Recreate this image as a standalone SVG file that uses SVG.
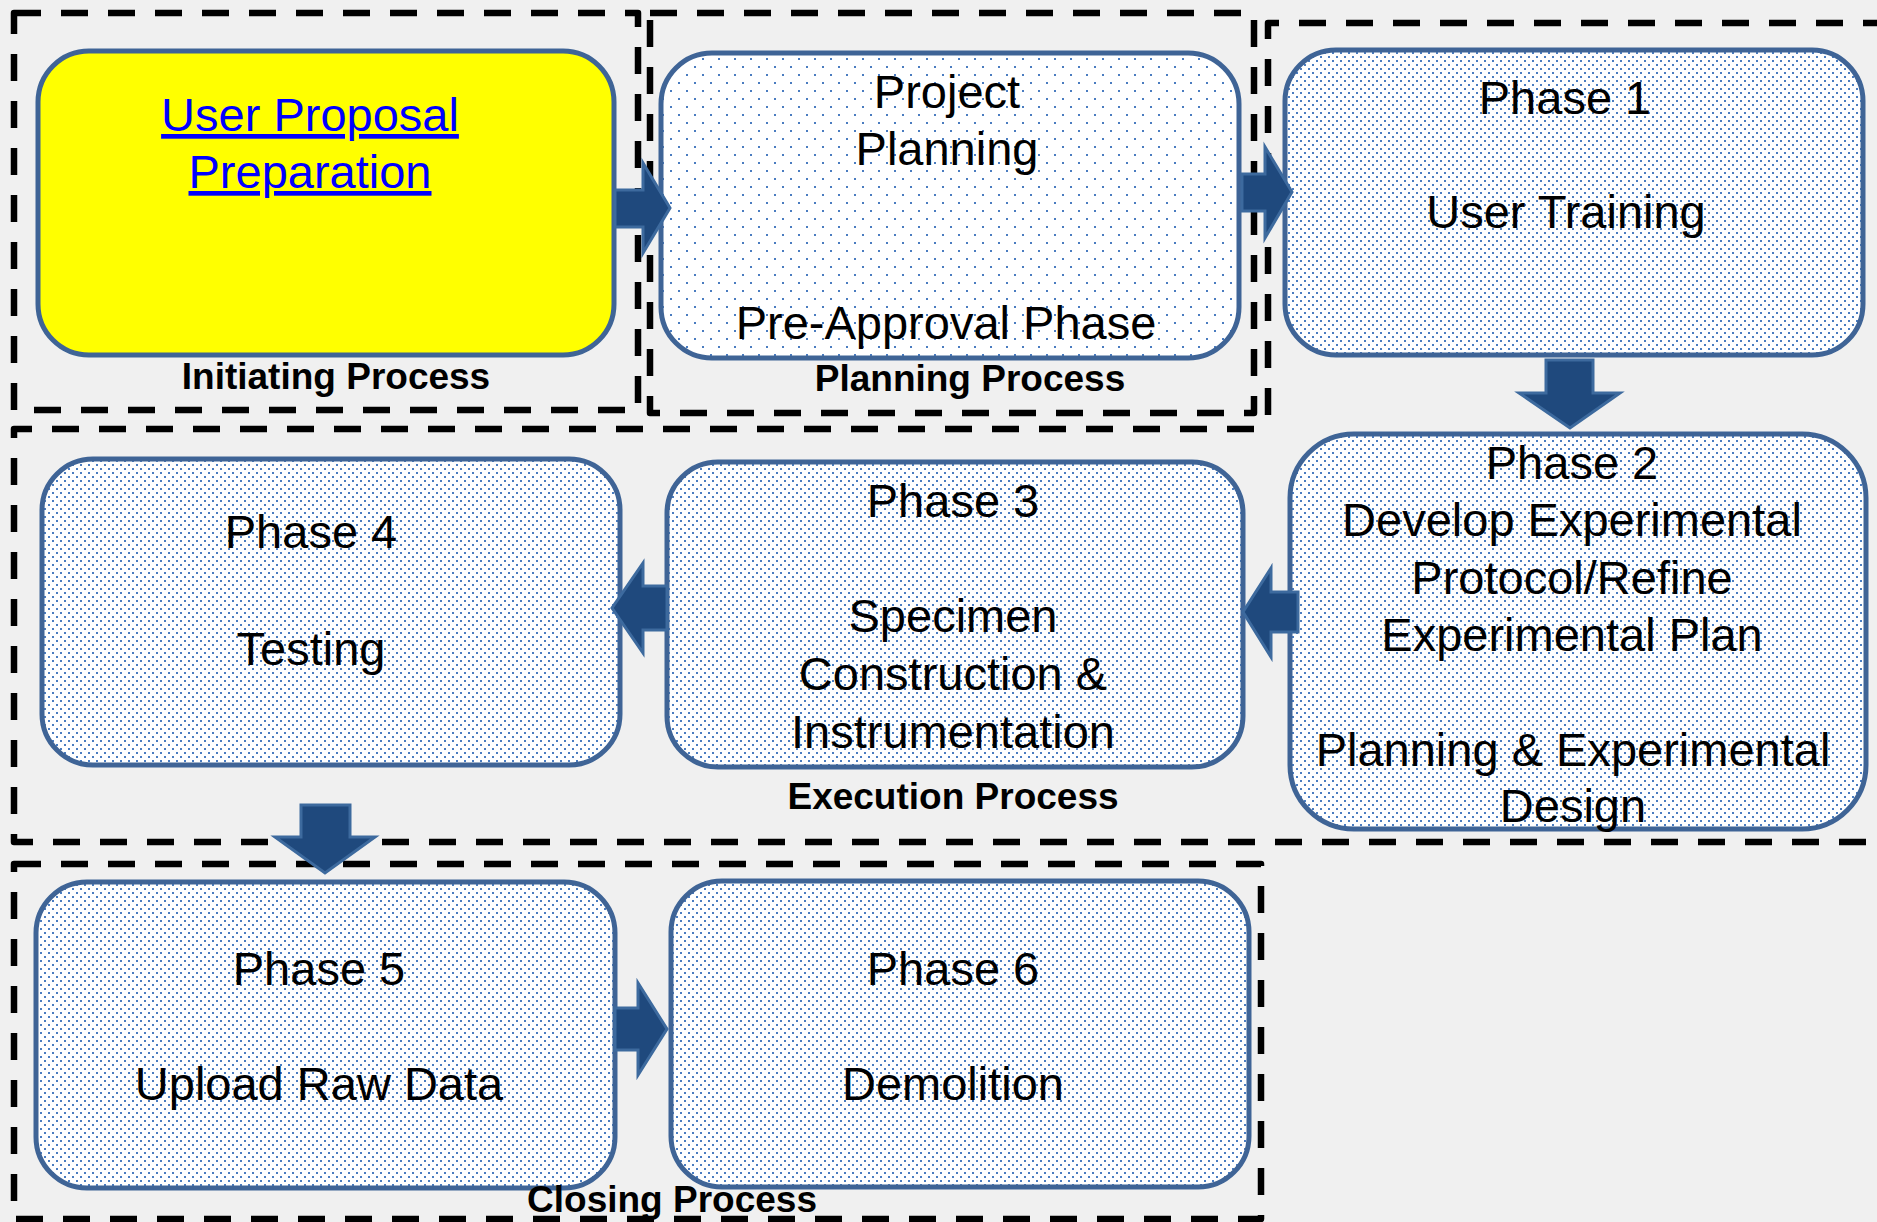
<svg xmlns="http://www.w3.org/2000/svg" width="1877" height="1222" viewBox="0 0 1877 1222">
<defs>
<pattern id="dotsSparse" patternUnits="userSpaceOnUse" width="16" height="16">
<rect width="16" height="16" fill="#ffffff"/>
<rect x="6" y="2" width="2" height="2" fill="#4a7cc0"/>
<rect x="14" y="10" width="2" height="2" fill="#4a7cc0"/>
</pattern>
<pattern id="dotsDense" patternUnits="userSpaceOnUse" width="8" height="8">
<rect width="8" height="8" fill="#ffffff"/>
<rect x="0" y="0" width="2" height="2" fill="#4a7cc0"/>
<rect x="4" y="4" width="2" height="2" fill="#4a7cc0"/>
</pattern>
</defs>
<style>
.grp{fill:none;stroke:#000;stroke-width:6.5;stroke-dasharray:27 20;stroke-linejoin:round}
.box{stroke:#3f6496;stroke-width:5}
.dense{fill:url(#dotsDense)}
.sparse{fill:url(#dotsSparse)}
.arrow{fill:#1f497d;stroke:#3d6a9e;stroke-width:3;stroke-linejoin:miter}
.t{font-family:"Liberation Sans",Arial,sans-serif;font-size:47px;fill:#000;text-anchor:middle}
.lbl{font-family:"Liberation Sans",Arial,sans-serif;font-size:37px;font-weight:bold;fill:#000;text-anchor:middle}
.link{fill:#0000ff;text-decoration:underline}
</style>
<rect width="1877" height="1222" fill="#f0f0f0"/>
<g id="groups">
<rect id="initiating-group" class="grp" x="14" y="13" width="624" height="397"/>
<rect id="planning-group" class="grp" x="650" y="13" width="604" height="400"/>
<path id="phase1-group" class="grp" d="M1268,415 V23 H1890"/>
<path id="execution-group" class="grp" d="M1254,429 H14 V842 H1890"/>
<rect id="closing-group" class="grp" x="14" y="864" width="1247" height="355"/>
</g>
<g id="node-proposal">
<rect class="box" x="38" y="51" width="576" height="304" rx="51" fill="#ffff00"/>
<text class="t link" x="310" y="131">User Proposal</text>
<text class="t link" x="310" y="188">Preparation</text>
</g>
<g id="node-project-planning">
<rect class="box sparse" x="661" y="53" width="578" height="305" rx="51"/>
<text class="t" x="947" y="108">Project</text>
<text class="t" x="947" y="165">Planning</text>
<text class="t" x="946" y="339">Pre-Approval Phase</text>
</g>
<g id="node-phase1">
<rect class="box dense" x="1285" y="50" width="578" height="305" rx="51"/>
<text class="t" x="1565" y="114">Phase 1</text>
<text class="t" x="1566" y="228">User Training</text>
</g>
<g id="node-phase2">
<rect class="box dense" x="1290" y="434" width="576" height="395" rx="64"/>
<text class="t" x="1572" y="479">Phase 2</text>
<text class="t" x="1572" y="536">Develop Experimental</text>
<text class="t" x="1572" y="594">Protocol/Refine</text>
<text class="t" x="1572" y="651">Experimental Plan</text>
<text class="t" x="1573" y="766">Planning &amp; Experimental</text>
<text class="t" x="1573" y="822">Design</text>
</g>
<g id="node-phase3">
<rect class="box dense" x="667" y="462" width="576" height="305" rx="51"/>
<text class="t" x="953" y="517">Phase 3</text>
<text class="t" x="953" y="632">Specimen</text>
<text class="t" x="953" y="690">Construction &amp;</text>
<text class="t" x="953" y="748">Instrumentation</text>
</g>
<g id="node-phase4">
<rect class="box dense" x="42" y="459" width="578" height="306" rx="51"/>
<text class="t" x="311" y="548">Phase 4</text>
<text class="t" x="311" y="665">Testing</text>
</g>
<g id="node-phase5">
<rect class="box dense" x="36" y="882" width="579" height="306" rx="51"/>
<text class="t" x="319" y="985">Phase 5</text>
<text class="t" x="319" y="1100">Upload Raw Data</text>
</g>
<g id="node-phase6">
<rect class="box dense" x="671" y="881" width="578" height="306" rx="51"/>
<text class="t" x="953" y="985">Phase 6</text>
<text class="t" x="953" y="1100">Demolition</text>
</g>
<g id="connectors">
<polygon class="arrow" points="615,190 643,190 643,163 670,208 643,253 643,227 615,227"/>
<polygon class="arrow" points="1242,174 1265,174 1265,147 1292,192 1265,238 1265,211 1242,211"/>
<polygon class="arrow" points="1546,360 1593,360 1593,393 1620,393 1570,428 1519,393 1546,393"/>
<polygon class="arrow" points="1298,592 1271,592 1271,568 1243,612 1271,657 1271,632 1298,632"/>
<polygon class="arrow" points="667,586 643,586 643,563 612,608 643,653 643,630 667,630"/>
<polygon class="arrow" points="301,805 350,805 350,837 375,837 325,873 275,837 301,837"/>
<polygon class="arrow" points="615,1008 638,1008 638,983 667,1029 638,1075 638,1050 615,1050"/>
</g>
<g id="group-labels">
<text class="lbl" x="336" y="389">Initiating Process</text>
<text class="lbl" x="970" y="391">Planning Process</text>
<text class="lbl" x="953" y="809">Execution Process</text>
<text class="lbl" x="672" y="1212">Closing Process</text>
</g>
</svg>
